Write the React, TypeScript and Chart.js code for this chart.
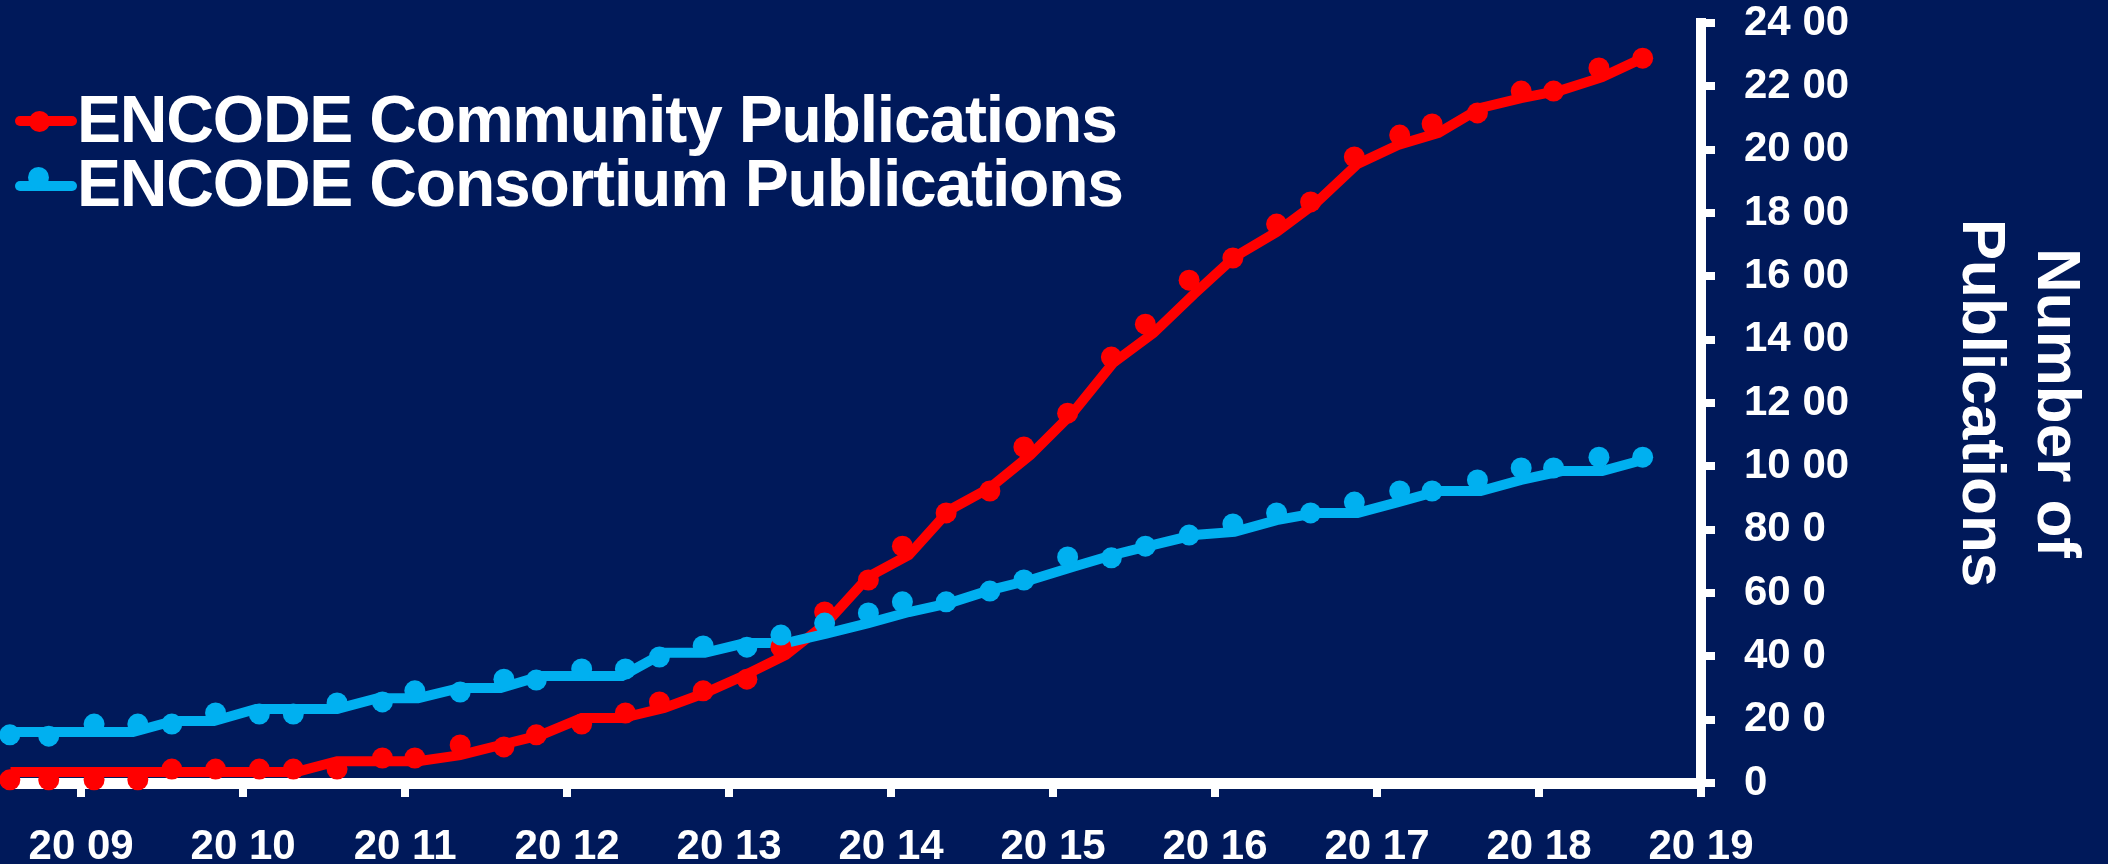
import React, { useEffect, useRef } from 'react';
import { Chart, registerables } from 'chart.js';

Chart.register(...registerables);

const FONT = '"Liberation Sans", Arial, Helvetica, sans-serif';
const BG = '#00195a';
const RED = '#ff0000';
const BLUE = '#00b0f0';
const WHITE = '#ffffff';

const seriesNames = ['ENCODE Community Publications', 'ENCODE Consortium Publications'];

// x positions (decimal years) of the line vertices
const lineDates = [
  2008.56, 2008.82, 2009.07, 2009.32, 2009.57, 2009.82, 2010.08, 2010.33, 2010.58, 2010.83,
  2011.08, 2011.34, 2011.59, 2011.84, 2012.09, 2012.34, 2012.6, 2012.85, 2013.1, 2013.35,
  2013.6, 2013.86, 2014.11, 2014.36, 2014.61, 2014.86, 2015.12, 2015.37, 2015.62, 2015.87,
  2016.12, 2016.38, 2016.63, 2016.88, 2017.13, 2017.38, 2017.64, 2017.89, 2018.14, 2018.39,
  2018.64,
];
const communityLine = [
  35, 35, 35, 35, 35, 35, 35, 35, 69, 69,
  69, 88, 120, 152, 205, 205, 237, 284, 341, 404,
  505, 651, 720, 862, 932, 1036, 1168, 1326, 1421, 1544,
  1661, 1740, 1835, 1955, 2015, 2053, 2132, 2163, 2188, 2229,
  2289,
];
const consortiumLine = [
  161, 161, 161, 161, 196, 196, 234, 234, 234, 268,
  268, 300, 300, 338, 338, 338, 411, 411, 442, 442,
  472, 505, 540, 568, 609, 641, 682, 720, 752, 783,
  793, 830, 853, 853, 887, 922, 922, 957, 985, 985,
  1020,
];

// x positions (decimal years) of the round markers
const pointDates = [
  2008.56, 2008.8, 2009.08, 2009.35, 2009.56, 2009.83, 2010.1, 2010.31, 2010.58, 2010.86,
  2011.06, 2011.34, 2011.61, 2011.81, 2012.09, 2012.36, 2012.57, 2012.84, 2013.11, 2013.32,
  2013.59, 2013.86, 2014.07, 2014.34, 2014.61, 2014.82, 2015.09, 2015.36, 2015.57, 2015.84,
  2016.11, 2016.38, 2016.59, 2016.86, 2017.14, 2017.34, 2017.62, 2017.89, 2018.09, 2018.37,
  2018.64,
];
const communityPoints = [
  10, 10, 10, 10, 44, 44, 44, 44, 44, 79,
  79, 120, 114, 152, 186, 221, 256, 291, 328, 429,
  540, 641, 748, 853, 922, 1061, 1168, 1345, 1449, 1588,
  1658, 1765, 1835, 1977, 2046, 2081, 2116, 2185, 2185, 2258,
  2289,
];
const consortiumPoints = [
  152, 148, 186, 186, 186, 221, 218, 218, 253, 256,
  291, 287, 328, 325, 360, 360, 398, 433, 429, 467,
  505, 537, 572, 572, 606, 641, 714, 711, 748, 783,
  818, 853, 853, 887, 922, 922, 957, 995, 995, 1029,
  1029,
];

const xTickYears = [2009, 2010, 2011, 2012, 2013, 2014, 2015, 2016, 2017, 2018, 2019];
const xTickLabels = ['20 09', '20 10', '20 11', '20 12', '20 13', '20 14', '20 15', '20 16', '20 17', '20 18', '20 19'];
const yTickValues = [0, 200, 400, 600, 800, 1000, 1200, 1400, 1600, 1800, 2000, 2200, 2400];
const yTickLabels = ['0', '20 0', '40 0', '60 0', '80 0', '10 00', '12 00', '14 00', '16 00', '18 00', '20 00', '22 00', '24 00'];
const yTitle = ['Number of', 'Publications'];

const xMin = 2008.564;
const xMax = 2019;
const yMin = 0;
const yMax = 2400;

function pairs(xs: number[], ys: number[]) {
  return xs.map((x, i) => ({ x, y: ys[i] }));
}

function LegendRow(props: { top: number; color: string; text: string; circleTop: number; circleLeft: number; lineTop: number }) {
  const { top, color, text, circleTop, circleLeft, lineTop } = props;
  return (
    <div style={{ position: 'absolute', left: 0, top, height: 64, width: 1200 }}>
      <div style={{ position: 'absolute', left: 15, top: lineTop, width: 62, height: 10, borderRadius: 5, background: color }} />
      <div style={{ position: 'absolute', left: circleLeft, top: circleTop, width: 21, height: 21, borderRadius: '50%', background: color }} />
      <span
        style={{
          position: 'absolute',
          left: 77,
          top: 0,
          lineHeight: '64px',
          fontSize: 66,
          fontWeight: 'bold',
          fontFamily: FONT,
          color: WHITE,
          whiteSpace: 'nowrap',
          letterSpacing: '-1.2px',
        }}
      >
        {text}
      </span>
    </div>
  );
}

export default function App() {
  const canvasRef = useRef<HTMLCanvasElement | null>(null);

  useEffect(() => {
    document.body.style.margin = '0';
    document.body.style.background = BG;
    const canvas = canvasRef.current;
    if (!canvas) return;

    const tickFont = { family: FONT, size: 42, weight: 'bold' as const, lineHeight: 1.1 };

    const chart = new Chart(canvas, {
      type: 'line',
      data: {
        datasets: [
          {
            label: seriesNames[1] + ' markers',
            data: pairs(pointDates, consortiumPoints),
            showLine: false,
            pointRadius: 10.5,
            pointBorderWidth: 0,
            pointBackgroundColor: BLUE,
            borderColor: BLUE,
            order: 0,
            clip: false,
          },
          {
            label: seriesNames[0] + ' markers',
            data: pairs(pointDates, communityPoints),
            showLine: false,
            pointRadius: 10.5,
            pointBorderWidth: 0,
            pointBackgroundColor: RED,
            borderColor: RED,
            order: 1,
            clip: false,
          },
          {
            label: seriesNames[1],
            data: pairs(lineDates, consortiumLine),
            borderColor: BLUE,
            borderWidth: 10,
            pointRadius: 0,
            tension: 0,
            fill: false,
            order: 2,
          },
          {
            label: seriesNames[0],
            data: pairs(lineDates, communityLine),
            borderColor: RED,
            borderWidth: 10,
            pointRadius: 0,
            tension: 0,
            fill: false,
            order: 3,
          },
        ],
      },
      options: {
        animation: false,
        responsive: false,
        maintainAspectRatio: false,
        layout: { padding: 0 },
        plugins: {
          legend: { display: false },
          tooltip: { enabled: false },
        },
        scales: {
          x: {
            type: 'linear',
            position: 'bottom',
            min: xMin,
            max: xMax,
            z: 1,
            afterFit: (scale: any) => {
              scale.height = 81;
              scale.paddingLeft = 0;
            },
            ticks: {
              stepSize: 1,
              includeBounds: false,
              autoSkip: false,
              maxRotation: 0,
              color: WHITE,
              font: tickFont,
              padding: 27,
              callback: (value: any) => {
                const i = xTickYears.indexOf(Number(value));
                return i >= 0 ? xTickLabels[i] : '';
              },
            },
            grid: {
              drawOnChartArea: false,
              drawTicks: true,
              tickLength: 14,
              tickWidth: 8,
              lineWidth: 8,
              color: WHITE,
              tickColor: WHITE,
            },
            border: { display: true, color: WHITE, width: 11 },
          },
          y: {
            type: 'linear',
            position: 'right',
            min: yMin,
            max: yMax,
            afterFit: (scale: any) => {
              scale.width = 407;
              scale.paddingTop = 23;
              scale.paddingBottom = 0;
            },
            ticks: {
              stepSize: 200,
              autoSkip: false,
              color: WHITE,
              font: tickFont,
              padding: 29,
              callback: (value: any) => {
                const i = yTickValues.indexOf(Number(value));
                return i >= 0 ? yTickLabels[i] : '';
              },
            },
            grid: {
              drawOnChartArea: false,
              drawTicks: true,
              tickLength: 14,
              tickWidth: 8,
              lineWidth: 8,
              color: WHITE,
              tickColor: WHITE,
            },
            border: { display: true, color: WHITE, width: 10 },
            title: {
              display: true,
              text: yTitle,
              color: WHITE,
              font: { family: FONT, size: 62, weight: 'bold', lineHeight: 1.2 },
              padding: { top: 16, bottom: 0 },
            },
          },
        },
      },
    } as any);

    return () => {
      chart.destroy();
    };
  }, []);

  return (
    <div style={{ position: 'relative', width: 2108, height: 864, background: BG, overflow: 'hidden' }}>
      <canvas ref={canvasRef} width={2108} height={864} style={{ position: 'absolute', left: 0, top: 0, width: 2108, height: 864 }} />
      <LegendRow top={87} color={RED} text={seriesNames[0]} lineTop={29} circleTop={23.5} circleLeft={28.5} />
      <LegendRow top={151} color={BLUE} text={seriesNames[1]} lineTop={29.5} circleTop={15.5} circleLeft={27.5} />
    </div>
  );
}
